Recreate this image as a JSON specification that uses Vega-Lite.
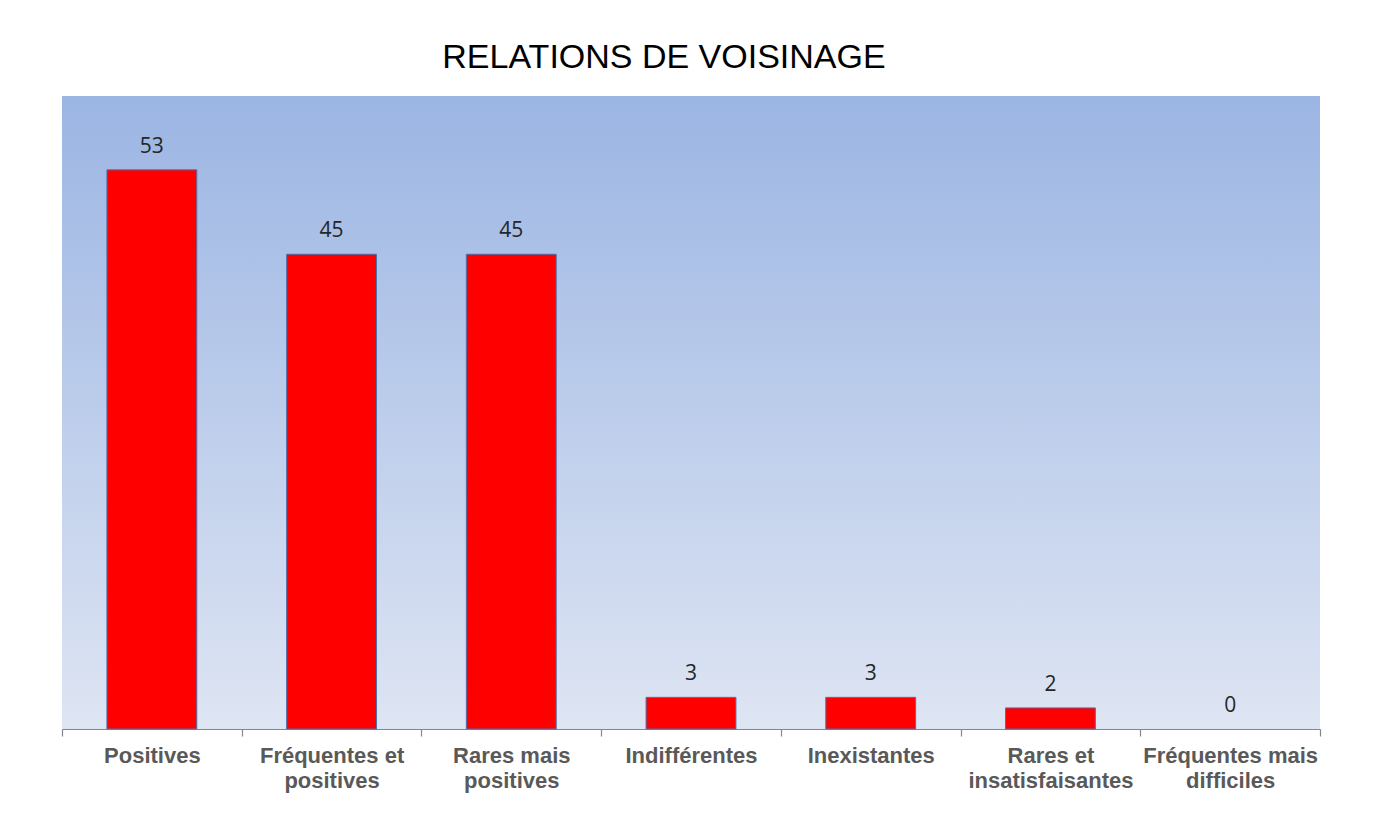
{
  "$schema": "https://vega.github.io/schema/vega-lite/v6.json",
  "autosize": {"type": "none"},
  "padding": {"left": 62, "top": 96, "right": 53, "bottom": 88},
  "width": 1258,
  "height": 633,
  "background": "white",
  "title": {
    "text": "RELATIONS DE VOISINAGE",
    "font": "Liberation Sans",
    "fontSize": 34,
    "fontWeight": "normal",
    "color": "#000000",
    "anchor": "middle",
    "baseline": "alphabetic",
    "offset": 26,
    "dx": -27,
    "dy": 32
  },
  "data": {
    "values": [
      {"categorie": "Positives", "valeur": 53},
      {"categorie": "Fréquentes et positives", "valeur": 45},
      {"categorie": "Rares mais positives", "valeur": 45},
      {"categorie": "Indifférentes", "valeur": 3},
      {"categorie": "Inexistantes", "valeur": 3},
      {"categorie": "Rares et insatisfaisantes", "valeur": 2},
      {"categorie": "Fréquentes mais difficiles", "valeur": 0}
    ]
  },
  "encoding": {
    "x": {
      "field": "categorie",
      "type": "nominal",
      "sort": null,
      "scale": {"paddingInner": 0, "paddingOuter": 0},
      "axis": {
        "title": null,
        "labelAngle": 0,
        "labelFont": "Liberation Sans",
        "labelFontSize": 22,
        "labelFontWeight": "bold",
        "labelColor": "#595959",
        "labelLineHeight": 25,
        "labelPadding": 9,
        "labelBaseline": "top",
        "labelExpr": "indexof(datum.label, ' ') < 0 ? datum.label : [slice(datum.label, 0, lastindexof(datum.label, ' ')), slice(datum.label, lastindexof(datum.label, ' ') + 1)]",
        "domainColor": "#868686",
        "domainWidth": 1.2,
        "ticks": true,
        "tickColor": "#868686",
        "tickSize": 7,
        "tickWidth": 1.2,
        "tickBand": "extent",
        "grid": false
      }
    },
    "y": {
      "field": "valeur",
      "type": "quantitative",
      "scale": {"domain": [0, 60], "nice": false},
      "axis": null
    }
  },
  "layer": [
    {
      "transform": [{"filter": "datum.valeur > 0"}],
      "mark": {"type": "bar", "color": "#FF0000", "stroke": "#4A72B0", "strokeWidth": 1, "width": {"band": 0.5}}
    },
    {
      "mark": {
        "type": "text",
        "baseline": "alphabetic",
        "align": "center",
        "dy": -17,
        "font": "Open Sans",
        "fontSize": 21,
        "color": "#262626"
      },
      "encoding": {"text": {"field": "valeur", "type": "quantitative"}}
    }
  ],
  "config": {
    "view": {
      "stroke": null,
      "fill": {
        "gradient": "linear",
        "x1": 0, "y1": 0, "x2": 0, "y2": 1,
        "stops": [
          {"offset": 0, "color": "#9BB5E3"},
          {"offset": 1, "color": "#DEE5F3"}
        ]
      }
    }
  }
}
